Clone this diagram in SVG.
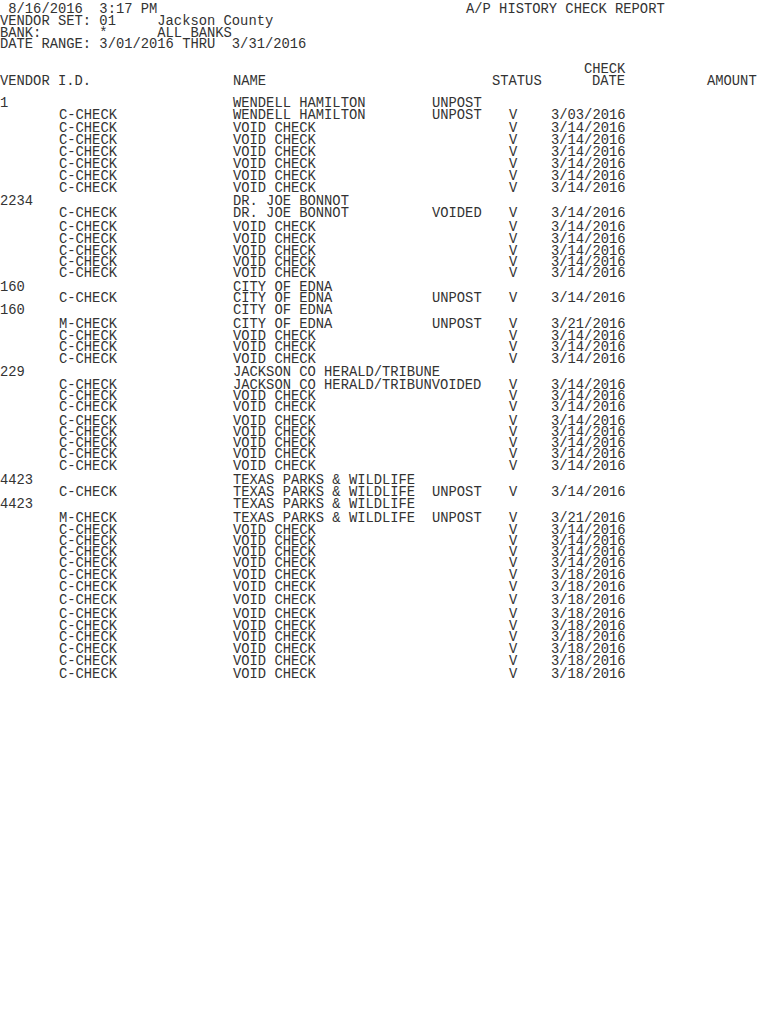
<svg xmlns="http://www.w3.org/2000/svg" width="770" height="1024" viewBox="0 0 770 1024">
<style>text{font-family:"Liberation Mono","DejaVu Sans Mono",monospace;font-size:13.8px;fill:#333}</style>
<rect width="770" height="1024" fill="#fff"/>
<g id="header">
<text x="0" y="13" xml:space="preserve"> 8/16/2016  3:17 PM</text>
<text x="466" y="13">A/P HISTORY CHECK REPORT</text>
<text x="0" y="25" xml:space="preserve">VENDOR SET: 01     Jackson County</text>
<text x="0" y="37" xml:space="preserve">BANK:       *      ALL BANKS</text>
<text x="0" y="48" xml:space="preserve">DATE RANGE: 3/01/2016 THRU  3/31/2016</text>
<text x="584" y="73">CHECK</text>
<text x="0" y="85">VENDOR I.D.</text><text x="233" y="85">NAME</text><text x="492" y="85">STATUS</text><text x="592" y="85">DATE</text><text x="707" y="85">AMOUNT</text>
</g>
<g id="vendor1">
<text x="0" y="107">1</text><text x="233" y="107">WENDELL HAMILTON</text><text x="432" y="107">UNPOST</text>
<text x="59" y="119">C-CHECK</text><text x="233" y="119">WENDELL HAMILTON</text><text x="432" y="119">UNPOST</text><text x="509" y="119">V</text><text x="551" y="119">3/03/2016</text>
<text x="59" y="132">C-CHECK</text><text x="233" y="132">VOID CHECK</text><text x="509" y="132">V</text><text x="551" y="132">3/14/2016</text>
<text x="59" y="144">C-CHECK</text><text x="233" y="144">VOID CHECK</text><text x="509" y="144">V</text><text x="551" y="144">3/14/2016</text>
<text x="59" y="156">C-CHECK</text><text x="233" y="156">VOID CHECK</text><text x="509" y="156">V</text><text x="551" y="156">3/14/2016</text>
<text x="59" y="168">C-CHECK</text><text x="233" y="168">VOID CHECK</text><text x="509" y="168">V</text><text x="551" y="168">3/14/2016</text>
<text x="59" y="180">C-CHECK</text><text x="233" y="180">VOID CHECK</text><text x="509" y="180">V</text><text x="551" y="180">3/14/2016</text>
<text x="59" y="192">C-CHECK</text><text x="233" y="192">VOID CHECK</text><text x="509" y="192">V</text><text x="551" y="192">3/14/2016</text>
</g>
<g id="vendor2234">
<text x="0" y="205">2234</text><text x="233" y="205">DR. JOE BONNOT</text>
<text x="59" y="217">C-CHECK</text><text x="233" y="217">DR. JOE BONNOT</text><text x="432" y="217">VOIDED</text><text x="509" y="217">V</text><text x="551" y="217">3/14/2016</text>
<text x="59" y="231">C-CHECK</text><text x="233" y="231">VOID CHECK</text><text x="509" y="231">V</text><text x="551" y="231">3/14/2016</text>
<text x="59" y="243">C-CHECK</text><text x="233" y="243">VOID CHECK</text><text x="509" y="243">V</text><text x="551" y="243">3/14/2016</text>
<text x="59" y="255">C-CHECK</text><text x="233" y="255">VOID CHECK</text><text x="509" y="255">V</text><text x="551" y="255">3/14/2016</text>
<text x="59" y="266">C-CHECK</text><text x="233" y="266">VOID CHECK</text><text x="509" y="266">V</text><text x="551" y="266">3/14/2016</text>
<text x="59" y="277">C-CHECK</text><text x="233" y="277">VOID CHECK</text><text x="509" y="277">V</text><text x="551" y="277">3/14/2016</text>
</g>
<g id="vendor160">
<text x="0" y="291">160</text><text x="233" y="291">CITY OF EDNA</text>
<text x="59" y="302">C-CHECK</text><text x="233" y="302">CITY OF EDNA</text><text x="432" y="302">UNPOST</text><text x="509" y="302">V</text><text x="551" y="302">3/14/2016</text>
<text x="0" y="314">160</text><text x="233" y="314">CITY OF EDNA</text>
<text x="59" y="328">M-CHECK</text><text x="233" y="328">CITY OF EDNA</text><text x="432" y="328">UNPOST</text><text x="509" y="328">V</text><text x="551" y="328">3/21/2016</text>
<text x="59" y="340">C-CHECK</text><text x="233" y="340">VOID CHECK</text><text x="509" y="340">V</text><text x="551" y="340">3/14/2016</text>
<text x="59" y="351">C-CHECK</text><text x="233" y="351">VOID CHECK</text><text x="509" y="351">V</text><text x="551" y="351">3/14/2016</text>
<text x="59" y="363">C-CHECK</text><text x="233" y="363">VOID CHECK</text><text x="509" y="363">V</text><text x="551" y="363">3/14/2016</text>
</g>
<g id="vendor229">
<text x="0" y="376">229</text><text x="233" y="376">JACKSON CO HERALD/TRIBUNE</text>
<text x="59" y="389">C-CHECK</text><text x="233" y="389">JACKSON CO HERALD/TRIBUNVOIDED</text><text x="509" y="389">V</text><text x="551" y="389">3/14/2016</text>
<text x="59" y="400">C-CHECK</text><text x="233" y="400">VOID CHECK</text><text x="509" y="400">V</text><text x="551" y="400">3/14/2016</text>
<text x="59" y="411">C-CHECK</text><text x="233" y="411">VOID CHECK</text><text x="509" y="411">V</text><text x="551" y="411">3/14/2016</text>
<text x="59" y="425">C-CHECK</text><text x="233" y="425">VOID CHECK</text><text x="509" y="425">V</text><text x="551" y="425">3/14/2016</text>
<text x="59" y="436">C-CHECK</text><text x="233" y="436">VOID CHECK</text><text x="509" y="436">V</text><text x="551" y="436">3/14/2016</text>
<text x="59" y="447">C-CHECK</text><text x="233" y="447">VOID CHECK</text><text x="509" y="447">V</text><text x="551" y="447">3/14/2016</text>
<text x="59" y="458">C-CHECK</text><text x="233" y="458">VOID CHECK</text><text x="509" y="458">V</text><text x="551" y="458">3/14/2016</text>
<text x="59" y="470">C-CHECK</text><text x="233" y="470">VOID CHECK</text><text x="509" y="470">V</text><text x="551" y="470">3/14/2016</text>
</g>
<g id="vendor4423">
<text x="0" y="484">4423</text><text x="233" y="484">TEXAS PARKS &amp; WILDLIFE</text>
<text x="59" y="496">C-CHECK</text><text x="233" y="496">TEXAS PARKS &amp; WILDLIFE</text><text x="432" y="496">UNPOST</text><text x="509" y="496">V</text><text x="551" y="496">3/14/2016</text>
<text x="0" y="508">4423</text><text x="233" y="508">TEXAS PARKS &amp; WILDLIFE</text>
<text x="59" y="522">M-CHECK</text><text x="233" y="522">TEXAS PARKS &amp; WILDLIFE</text><text x="432" y="522">UNPOST</text><text x="509" y="522">V</text><text x="551" y="522">3/21/2016</text>
<text x="59" y="534">C-CHECK</text><text x="233" y="534">VOID CHECK</text><text x="509" y="534">V</text><text x="551" y="534">3/14/2016</text>
<text x="59" y="545">C-CHECK</text><text x="233" y="545">VOID CHECK</text><text x="509" y="545">V</text><text x="551" y="545">3/14/2016</text>
<text x="59" y="556">C-CHECK</text><text x="233" y="556">VOID CHECK</text><text x="509" y="556">V</text><text x="551" y="556">3/14/2016</text>
<text x="59" y="567">C-CHECK</text><text x="233" y="567">VOID CHECK</text><text x="509" y="567">V</text><text x="551" y="567">3/14/2016</text>
<text x="59" y="579">C-CHECK</text><text x="233" y="579">VOID CHECK</text><text x="509" y="579">V</text><text x="551" y="579">3/18/2016</text>
<text x="59" y="591">C-CHECK</text><text x="233" y="591">VOID CHECK</text><text x="509" y="591">V</text><text x="551" y="591">3/18/2016</text>
<text x="59" y="604">C-CHECK</text><text x="233" y="604">VOID CHECK</text><text x="509" y="604">V</text><text x="551" y="604">3/18/2016</text>
<text x="59" y="618">C-CHECK</text><text x="233" y="618">VOID CHECK</text><text x="509" y="618">V</text><text x="551" y="618">3/18/2016</text>
<text x="59" y="630">C-CHECK</text><text x="233" y="630">VOID CHECK</text><text x="509" y="630">V</text><text x="551" y="630">3/18/2016</text>
<text x="59" y="641">C-CHECK</text><text x="233" y="641">VOID CHECK</text><text x="509" y="641">V</text><text x="551" y="641">3/18/2016</text>
<text x="59" y="653">C-CHECK</text><text x="233" y="653">VOID CHECK</text><text x="509" y="653">V</text><text x="551" y="653">3/18/2016</text>
<text x="59" y="665">C-CHECK</text><text x="233" y="665">VOID CHECK</text><text x="509" y="665">V</text><text x="551" y="665">3/18/2016</text>
<text x="59" y="678">C-CHECK</text><text x="233" y="678">VOID CHECK</text><text x="509" y="678">V</text><text x="551" y="678">3/18/2016</text>
</g>
</svg>
